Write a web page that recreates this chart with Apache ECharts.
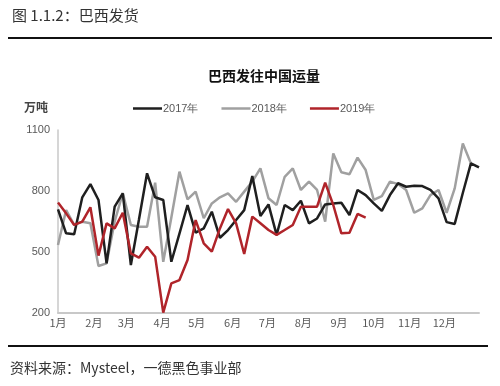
<!DOCTYPE html>
<html>
<head>
<meta charset="utf-8">
<script src="https://cdn.jsdelivr.net/npm/echarts@6/dist/echarts.min.js"></script>
<style>
html,body{margin:0;padding:0;background:#fff;}
#chart{width:500px;height:386px;}
</style>
</head>
<body>
<div id="chart"></div>
<script>
// Weekly shipments, Brazil -> China (10k tonnes)
const seriesNames = ['2017年', '2018年', '2019年'];
const y2017 = [710, 592, 587, 769, 834, 756, 444, 723, 788, 436, 660, 887, 769, 756, 452, 590,
  731, 595, 616, 698, 570, 608, 657, 706, 874, 677, 734, 584, 731, 706, 752, 641, 665, 734, 739,
  742, 682, 805, 780, 739, 702, 780, 838, 821, 826, 824, 805, 764, 647, 638, 790, 936, 916];
const y2018 = [534, 706, 633, 649, 641, 431, 444, 650, 790, 633, 624, 624, 841, 452, 670, 895,
  759, 797, 666, 739, 769, 788, 747, 797, 846, 911, 764, 731, 870, 911, 805, 846, 805, 649, 985,
  892, 882, 964, 903, 756, 775, 846, 834, 805, 693, 715, 780, 805, 693, 813, 1034, 936];
const y2019 = [743, 690, 633, 649, 720, 482, 641, 616, 693, 493, 472, 526, 477, 202, 346, 362,
  461, 657, 543, 502, 616, 711, 641, 490, 674, 641, 608, 584, 608, 633, 723, 723, 723, 841, 731,
  592, 595, 687, 669];
const yTicks = [200, 500, 800, 1100];
const monthLabels = ['1月','2月','3月','4月','5月','6月','7月','8月','9月','10月','11月','12月'];

// week dates (category positions on a common calendar year)
const DAY = 86400000;
const startDate = new Date(2019, 0, 1).getTime();
const weeks = [];
for (let i = 0; i < y2017.length; i++) weeks.push(startDate + i * 7 * DAY);

const pair = arr => arr.map((v, i) => [weeks[i], v]);
const colors = ['#1f1f1f', '#a0a0a0', '#b0242a'];
const cjk = '"Noto Sans CJK SC", "Noto Sans", sans-serif';

const chart = echarts.init(document.getElementById('chart'), null, {renderer: 'canvas'});
chart.setOption({
  backgroundColor: '#fff',
  animation: false,
  title: {
    text: '巴西发往中国运量',
    left: 259, textAlign: 'center', top: 64,
    textStyle: {fontFamily: cjk, fontSize: 14, fontWeight: 'bold', color: '#111'}
  },
  legend: {
    left: 128, top: 98,
    icon: 'rect',
    itemWidth: 29, itemHeight: 2.5, itemGap: 23,
    textStyle: {fontFamily: '"Liberation Sans", Arial, sans-serif', fontSize: 11, color: '#595959', padding: [0,0,0,-4]},
    data: seriesNames
  },
  grid: {left: 58, right: 21, top: 130, bottom: 73, containLabel: false},
  xAxis: {
    type: 'time',
    min: weeks[0], max: weeks[weeks.length - 1],
    splitNumber: 12,
    minInterval: 28 * DAY,
    axisLine: {show: true, lineStyle: {color: '#c8c8c8', width: 2}},
    axisTick: {show: false},
    splitLine: {show: false},
    axisLabel: {
      formatter: v => monthLabels[new Date(v).getMonth()],
      fontFamily: cjk, fontSize: 11, color: '#595959', margin: 4,
      showMaxLabel: false
    }
  },
  yAxis: {
    type: 'value', min: yTicks[0], max: yTicks[yTicks.length - 1], interval: 300,
    axisLine: {show: true, lineStyle: {color: '#c8c8c8', width: 1.5}},
    axisTick: {show: false},
    splitLine: {show: false},
    axisLabel: {formatter: v => String(v), fontFamily: '"Liberation Sans", Arial, sans-serif', fontSize: 11, color: '#595959', margin: 8}
  },
  series: [
    {name: seriesNames[0], type: 'line', data: pair(y2017), symbol: 'none', z: 3,
     lineStyle: {color: colors[0], width: 2.5}, itemStyle: {color: colors[0]}},
    {name: seriesNames[1], type: 'line', data: pair(y2018), symbol: 'none', z: 2,
     lineStyle: {color: colors[1], width: 2.5}, itemStyle: {color: colors[1]}},
    {name: seriesNames[2], type: 'line', data: pair(y2019), symbol: 'none', z: 4,
     lineStyle: {color: colors[2], width: 2.5}, itemStyle: {color: colors[2]}}
  ],
  graphic: [
    {type: 'text', left: 12, top: 8, style: {text: '图 1.1.2：巴西发货', font: '15px ' + cjk, fill: '#333'}},
    {type: 'rect', shape: {x: 8, y: 37, width: 484, height: 2}, style: {fill: '#111'}},
    {type: 'text', left: 24, top: 101, style: {text: '万吨', font: 'bold 12px ' + cjk, fill: '#444'}},
    {type: 'rect', shape: {x: 8, y: 345, width: 480, height: 2}, style: {fill: '#111'}},
    {type: 'text', left: 10, top: 361, style: {text: '资料来源：Mysteel，一德黑色事业部', font: '14px ' + cjk, fill: '#333'}}
  ]
});
</script>
</body>
</html>
